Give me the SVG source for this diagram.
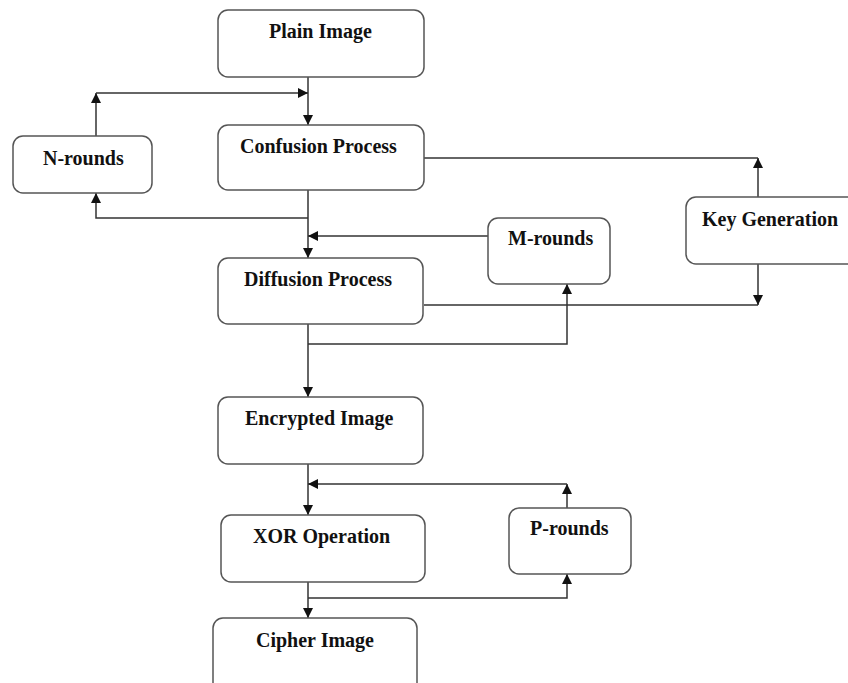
<svg xmlns="http://www.w3.org/2000/svg" width="848" height="683" viewBox="0 0 848 683">
<style>
.box{fill:#fff;stroke:#555;stroke-width:1.5}
.lbl{font-family:"Liberation Serif","Times New Roman",serif;font-weight:bold;font-size:20px;fill:#111}
.c{fill:none;stroke:#333;stroke-width:1.5}
</style>
<defs>
<marker id="ah" viewBox="0 0 10 10" refX="10" refY="5" markerWidth="10" markerHeight="10" markerUnits="userSpaceOnUse" orient="auto">
<path d="M0,0 L10,5 L0,10 z" fill="#111"/>
</marker>
</defs>
<rect width="848" height="683" fill="#fff"/>
<g id="connectors">
<path class="c" d="M308,77 V125" marker-end="url(#ah)"/>
<path class="c" d="M96,136 V93" marker-end="url(#ah)"/>
<path class="c" d="M96,93 H308" marker-end="url(#ah)"/>
<path class="c" d="M308,190 V258" marker-end="url(#ah)"/>
<path class="c" d="M308,218 H96 V193" marker-end="url(#ah)"/>
<path class="c" d="M488,236 H308" marker-end="url(#ah)"/>
<path class="c" d="M424,158 H758"/>
<path class="c" d="M758,197 V158" marker-end="url(#ah)"/>
<path class="c" d="M424,305 H758"/>
<path class="c" d="M758,264 V305" marker-end="url(#ah)"/>
<path class="c" d="M308,324 V397" marker-end="url(#ah)"/>
<path class="c" d="M308,344 H567 V284" marker-end="url(#ah)"/>
<path class="c" d="M308,464 V515" marker-end="url(#ah)"/>
<path class="c" d="M567,508 V484" marker-end="url(#ah)"/>
<path class="c" d="M567,484 H308" marker-end="url(#ah)"/>
<path class="c" d="M308,582 V618" marker-end="url(#ah)"/>
<path class="c" d="M308,598 H567 V574" marker-end="url(#ah)"/>
</g>
<g id="plain-image"><rect class="box" x="218" y="10" width="206" height="67" rx="10"/><text class="lbl" x="269" y="38">Plain Image</text></g>
<g id="n-rounds"><rect class="box" x="13" y="136" width="139" height="57" rx="10"/><text class="lbl" x="43" y="165">N-rounds</text></g>
<g id="confusion"><rect class="box" x="218" y="125" width="206" height="65" rx="10"/><text class="lbl" x="240" y="153">Confusion Process</text></g>
<g id="key-generation"><rect class="box" x="686" y="197" width="180" height="67" rx="10"/><text class="lbl" x="702" y="226">Key Generation</text></g>
<g id="m-rounds"><rect class="box" x="488" y="218" width="122" height="66" rx="10"/><text class="lbl" x="508" y="245">M-rounds</text></g>
<g id="diffusion"><rect class="box" x="218" y="258" width="205" height="66" rx="10"/><text class="lbl" x="244" y="286">Diffusion Process</text></g>
<g id="encrypted-image"><rect class="box" x="218" y="397" width="205" height="67" rx="10"/><text class="lbl" x="245" y="425">Encrypted Image</text></g>
<g id="p-rounds"><rect class="box" x="509" y="508" width="122" height="66" rx="10"/><text class="lbl" x="530" y="535">P-rounds</text></g>
<g id="xor"><rect class="box" x="221" y="515" width="204" height="67" rx="10"/><text class="lbl" x="253" y="543">XOR Operation</text></g>
<g id="cipher-image"><rect class="box" x="213" y="618" width="204" height="80" rx="10"/><text class="lbl" x="256" y="647">Cipher Image</text></g>
</svg>
